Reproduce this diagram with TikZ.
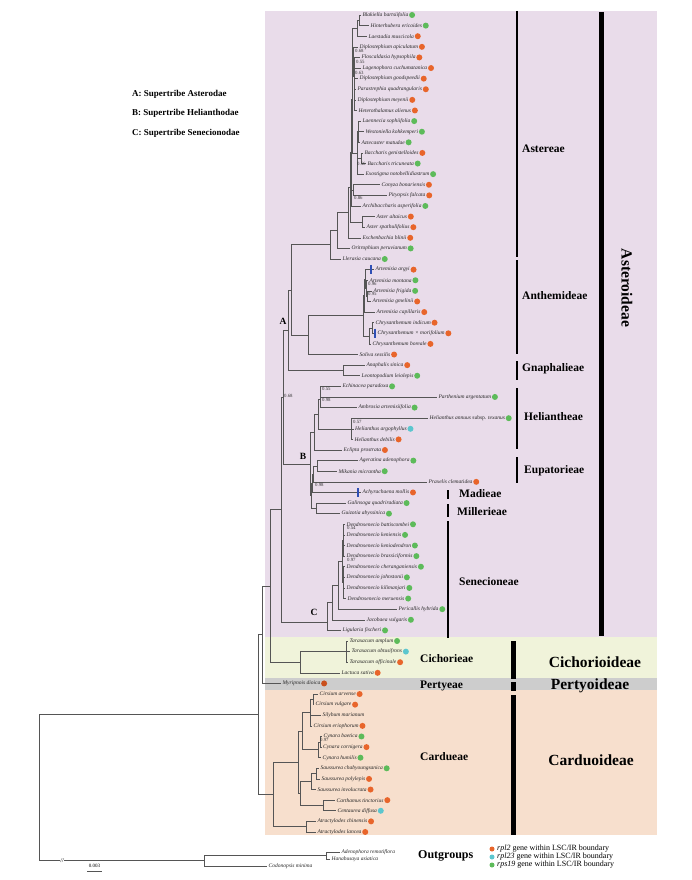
\documentclass[tikz,border=0pt]{standalone}
\usepackage{fontspec}
\setmainfont{Liberation Serif}
\definecolor{cOr}{HTML}{E8652B}
\definecolor{cGr}{HTML}{5DBB5A}
\definecolor{cCy}{HTML}{5CC6CE}
\definecolor{cDo}{HTML}{C9501E}
\definecolor{brc}{HTML}{555555}
\definecolor{cBl}{HTML}{2F4FB5}
\definecolor{bgA}{HTML}{E9DCEA}
\definecolor{bgC}{HTML}{F0F3DA}
\definecolor{bgP}{HTML}{CDCDCD}
\definecolor{bgD}{HTML}{F7DFCD}
\newcommand\tleaf[5]{%
  \coordinate (t#1) at (#2,#3);
  \node[lbl] (l#1) at ([xshift=1.4pt]t#1) {#4};
  \node[dot=#5] (d#1) at ([xshift=3.6pt]l#1.east) {};}
\newcommand\tleafn[4]{%
  \coordinate (t#1) at (#2,#3);
  \node[lbl] (l#1) at ([xshift=1.4pt]t#1) {#4};}
\newcommand\tnode[4]{%
  \coordinate (#1) at (#2,#3);
  \foreach \kid in {#4}{\draw[branch] (#1) |- (\kid);}}
\begin{document}
\begin{tikzpicture}[x=1pt,y=-1pt,
  branch/.style={draw=brc, line width=0.55pt},
  lbl/.style={anchor=west, inner sep=0pt, font=\fontsize{5.5}{6}\selectfont\itshape, text=black!85},
  dot/.style={circle, fill=#1, inner sep=0pt, minimum size=6pt},
  nlab/.style={anchor=west, inner sep=0pt, font=\fontsize{4.8}{5}\selectfont, text=black!80},
  tribe/.style={anchor=west, inner sep=0pt, font=\fontsize{11.5}{12}\selectfont\bfseries},
  subf/.style={inner sep=0pt, font=\fontsize{15.5}{16}\selectfont\bfseries},
  tbar/.style={line width=2.6pt, draw=black},
  sbar/.style={line width=5pt, draw=black},
  clade/.style={inner sep=0pt, font=\fontsize{9.5}{10}\selectfont\bfseries},
  leg/.style={anchor=west, inner sep=0pt, font=\fontsize{9}{10}\selectfont\bfseries},
  legs/.style={anchor=west, inner sep=0pt, font=\fontsize{8}{8}\selectfont}]
\useasboundingbox (0,0) rectangle (691,880);
% background bands
\fill[bgA] (265,11) rectangle (657,637);
\fill[bgC] (265,637) rectangle (657,678);
\fill[bgP] (265,678) rectangle (657,690);
\fill[bgD] (265,690) rectangle (657,835);
% supertribe legend
\node[leg] (sA) at (132,94) {A: Supertribe Asterodae};
\node[leg] (sB) at (132,113) {B: Supertribe Helianthodae};
\node[leg] (sC) at (132,133) {C: Supertribe Senecionodae};

\begin{scope}[y=-10.61pt, yshift=-15pt]
% ---------- leaves
\tleaf{0}{361}{0}{Blakiella bartsiifolia}{cGr}
\tleaf{1}{369}{1}{Hinterhubera ericoides}{cGr}
\tleaf{2}{367}{2}{Laestadia muscicola}{cOr}
\tleaf{3}{358}{3}{Diplostephium apiculatum}{cOr}
\tleaf{4}{360}{4}{Floscaldasia hypsophila}{cOr}
\tleaf{5}{361}{5}{Lagenophora cuchumatanica}{cOr}
\tleaf{6}{358}{6}{Diplostephium goodspeedii}{cOr}
\tleaf{7}{356}{7}{Parastrephia quadrangularis}{cOr}
\tleaf{8}{356}{8}{Diplostephium meyenii}{cOr}
\tleaf{9}{357}{9}{Heterothalamus alienus}{cOr}
\tleaf{10}{361}{10}{Laennecia sophiifolia}{cGr}
\tleaf{11}{364}{11}{Westoniella kohkemperi}{cGr}
\tleaf{12}{360}{12}{Aztecaster matudae}{cGr}
\tleaf{13}{363}{13}{Baccharis genistelloides}{cOr}
\tleaf{14}{366}{14}{Baccharis tricuneata}{cGr}
\tleaf{15}{364}{15}{Exostigma notobellidiastrum}{cGr}
\tleaf{16}{380}{16}{Conyza bonariensis}{cOr}
\tleaf{17}{387}{17}{Pityopsis falcata}{cOr}
\tleaf{18}{361}{18}{Archibaccharis asperifolia}{cGr}
\tleaf{19}{375}{19}{Aster altaicus}{cOr}
\tleaf{20}{365}{20}{Aster spathulifolius}{cOr}
\tleaf{21}{361}{21}{Eschenbachia blinii}{cOr}
\tleaf{22}{350}{22}{Oritrophium peruvianum}{cGr}
\tleaf{23}{341}{23}{Llerasia caucana}{cGr}
\tleaf{24}{374}{24}{Artemisia argyi}{cOr}
\tleaf{25}{368}{25}{Artemisia montana}{cGr}
\tleaf{26}{372}{26}{Artemisia frigida}{cGr}
\tleaf{27}{371}{27}{Artemisia gmelinii}{cOr}
\tleaf{28}{375}{28}{Artemisia capillaris}{cOr}
\tleaf{29}{374}{29}{Chrysanthemum indicum}{cOr}
\tleaf{30}{376}{30}{Chrysanthemum × morifolium}{cOr}
\tleaf{31}{371}{31}{Chrysanthemum boreale}{cOr}
\tleaf{32}{358}{32}{Soliva sessilis}{cOr}
\tleaf{33}{365}{33}{Anaphalis sinica}{cOr}
\tleaf{34}{360}{34}{Leontopodium leiolepis}{cGr}
\tleaf{35}{341}{35}{Echinacea paradoxa}{cGr}
\tleaf{36}{437}{36}{Parthenium argentatum}{cGr}
\tleaf{37}{357}{37}{Ambrosia artemisiifolia}{cGr}
\tleaf{38}{428}{38}{Helianthus annuus {\upshape subsp.} texanus}{cGr}
\tleaf{39}{353.5}{39}{Helianthus argophyllus}{cCy}
\tleaf{40}{353}{40}{Helianthus debilis}{cOr}
\tleaf{41}{342}{41}{Eclipta prostrata}{cOr}
\tleaf{42}{358}{42}{Ageratina adenophora}{cGr}
\tleaf{43}{337}{43}{Mikania micrantha}{cGr}
\tleaf{44}{427}{44}{Praxelis clematidea}{cOr}
\tleaf{45}{361}{45}{Achyrachaena mollis}{cOr}
\tleaf{46}{346}{46}{Galinsoga quadriradiata}{cGr}
\tleaf{47}{340}{47}{Guizotia abyssinica}{cGr}
\tleaf{48}{345}{48}{Dendrosenecio battiscombei}{cGr}
\tleaf{49}{345}{49}{Dendrosenecio keniensis}{cGr}
\tleaf{50}{345}{50}{Dendrosenecio keniodendron}{cGr}
\tleaf{51}{345}{51}{Dendrosenecio brassiciformis}{cGr}
\tleaf{52}{345}{52}{Dendrosenecio cheranganiensis}{cGr}
\tleaf{53}{345}{53}{Dendrosenecio johnstonii}{cGr}
\tleaf{54}{345}{54}{Dendrosenecio kilimanjari}{cGr}
\tleaf{55}{346}{55}{Dendrosenecio meruensis}{cGr}
\tleaf{56}{397}{56}{Pericallis hybrida}{cGr}
\tleaf{57}{365}{57}{Jacobaea vulgaris}{cGr}
\tleaf{58}{341}{58}{Ligularia fischeri}{cGr}
\tleaf{59}{348}{59}{Taraxacum amplum}{cGr}
\tleaf{60}{350}{60}{Taraxacum obtusifrons}{cCy}
\tleaf{61}{348}{61}{Taraxacum officinale}{cOr}
\tleaf{62}{340}{62}{Lactuca sativa}{cOr}
\tleaf{63}{281}{63}{Myripnois dioica}{cDo}
\tleaf{64}{318}{64}{Cirsium arvense}{cOr}
\tleaf{65}{314}{65}{Cirsium vulgare}{cOr}
\tleafn{66}{321}{66}{Silybum marianum}
\tleaf{67}{312}{67}{Cirsium eriophorum}{cOr}
\tleaf{68}{322}{68}{Cynara baetica}{cGr}
\tleaf{69}{321.5}{69}{Cynara cornigera}{cOr}
\tleaf{70}{321}{70}{Cynara humilis}{cGr}
\tleaf{71}{319}{71}{Saussurea chabyoungsanica}{cGr}
\tleaf{72}{320}{72}{Saussurea polylepis}{cOr}
\tleaf{73}{316}{73}{Saussurea involucrata}{cOr}
\tleaf{74}{335}{74}{Carthamus tinctorius}{cOr}
\tleaf{75}{336}{75}{Centaurea diffusa}{cCy}
\tleaf{76}{316}{76}{Atractylodes chinensis}{cOr}
\tleaf{77}{316}{77}{Atractylodes lancea}{cOr}
\tleafn{Ad}{340}{78.89}{Adenophora remotiflora}
\tleafn{Ha}{330}{79.55}{Hanabusaya asiatica}
\tleafn{Co}{267}{80.2}{Codonopsis minima}
% ---------- Astereae
\tnode{nBH}{359}{0.5}{t0,t1}
\tnode{nBHL}{357}{1.25}{nBH,t2}
\tnode{nT2}{354.5}{7.5}{t6,t7,t8,t9}
\tnode{nT3}{354}{5.75}{t4,t5,nT2}
\tnode{nT4}{353}{4.375}{t3,nT3}
\tnode{nT}{352}{2.8125}{nBHL,nT4}
\tnode{nLa}{358.5}{11}{t10,t11,t12}
\tnode{nBa}{361}{13.5}{t13,t14}
\tnode{nM}{357}{13}{nLa,nBa,t15}
\tnode{nU}{352}{7.9}{nT,nM}
\tnode{nCP}{353}{16.5}{t16,t17}
\tnode{nV}{351}{12.95}{nU,nCP,t18}
\tnode{nAs}{362}{19.5}{t19,t20}
\tnode{nW}{350}{16.225}{nV,nAs}
\tnode{nS2}{348.5}{18.61}{nW,t21}
\tnode{nS1}{337}{20.3}{nS2,t22}
\tnode{nS0}{330}{21.65}{nS1,t23}
% ---------- Anthemideae, Gnaphalieae
\tnode{nAfg}{367.5}{26.5}{t26,t27}
\tnode{nAm}{366.5}{25.75}{t25,nAfg}
\tnode{nAa}{365.5}{24.875}{t24,nAm}
\tnode{nArt}{364}{26.44}{nAa,t28}
\tnode{nChi}{372}{29.5}{t29,t30}
\tnode{nChr}{369}{30.25}{nChi,t31}
\tnode{nAC}{363}{28.34}{nArt,nChr}
\tnode{nAnth}{308}{30.17}{nAC,t32}
\tnode{nGn}{343}{33.5}{t33,t34}
\tnode{nAA}{291}{25.91}{nS0,nAnth}
\tnode{nA}{288}{29.71}{nAA,nGn}
% ---------- Helianthodae
\tnode{nEP}{320.5}{35.5}{t35,t36}
\tnode{nEPA}{320}{36.25}{nEP,t37}
\tnode{nHe}{351}{39}{t38,t39,t40}
\tnode{nHA}{318.5}{37.625}{nEPA,nHe}
\tnode{nHEc}{314}{39.31}{nHA,t41}
\tnode{nAM}{317}{42.5}{t42,t43}
\tnode{nEu}{313.5}{43.25}{nAM,t44}
\tnode{nEM}{312.5}{44.125}{nEu,t45}
\tnode{nMil}{316}{46.5}{t46,t47}
\tnode{nEMM}{311.5}{45.31}{nEM,nMil}
\tnode{nB}{310}{42.31}{nHEc,nEMM}
\tnode{nAB}{283}{36.01}{nA,nB}
% ---------- Senecionodae
\tnode{nDa}{343.5}{49.5}{t48,t49,t50,t51}
\tnode{nDb}{343.5}{53.5}{t52,t53,t54,t55}
\tnode{nD}{342}{51.5}{nDa,nDb}
\tnode{nDP}{338}{53.75}{nD,t56}
\tnode{nDPJ}{332}{55.375}{nDP,t57}
\tnode{nC}{327}{57.19}{nDPJ,t58}
\tnode{nAst}{281.5}{46.6}{nAB,nC}
% ---------- Cichorieae, Pertyeae
\tnode{nTar}{346}{60}{t59,t60,t61}
\tnode{nCic}{300}{61}{nTar,t62}
\tnode{nAC2}{270}{53.8}{nAst,nCic}
\tnode{nAMy}{262}{58.4}{nAC2,t63}
% ---------- Cardueae
\tnode{nCav}{313}{64.5}{t64,t65}
\tnode{nCirs}{310}{65.75}{nCav,t66,t67}
\tnode{nCyn1}{320.5}{68.5}{t68,t69}
\tnode{nCyn}{318.5}{69.25}{nCyn1,t70}
\tnode{nCC}{302}{67.5}{nCirs,nCyn}
\tnode{nSa1}{316}{71.5}{t71,t72}
\tnode{nSa}{311}{72.25}{nSa1,t73}
\tnode{nCt}{323}{74.5}{t74,t75}
\tnode{nSCt}{300}{73.375}{nSa,nCt}
\tnode{nCS}{298}{70.44}{nCC,nSCt}
\tnode{nAtr}{306}{76.5}{t76,t77}
\tnode{nCard}{273}{73.47}{nCS,nAtr}
\tnode{nIn}{258}{65.94}{nAMy,nCard}
% ---------- outgroups and root
\tnode{nAH}{326}{79.22}{tAd,tHa}
\tnode{nOut}{204}{79.7}{nAH,tCo}
\tnode{root}{39}{72.82}{nIn,nOut}
\node[inner sep=0.4pt, fill=white, font=\fontsize{6}{6}\selectfont\itshape] (brk) at (62,79.7) {//};
% blue bars
\draw[cBl, line width=2.4pt] (371,23.55) -- (371,24.45);
\draw[cBl, line width=2.4pt] (375,29.55) -- (375,30.45);
\draw[cBl, line width=2.4pt] (358,44.6) -- (358,45.45);
\end{scope}

% support values
\node[nlab] (p1) at (355,51) {0.68};
\node[nlab] (p2) at (356,62) {0.55};
\node[nlab] (p3) at (355,73.3) {0.63};
\node[nlab] (p4) at (357,164) {0.56};
\node[nlab] (p5) at (354,198) {0.86};
\node[nlab] (p6) at (368,284) {0.96};
\node[nlab] (p7) at (368,294) {0.95};
\node[nlab] (p8) at (284,396) {0.68};
\node[nlab] (p9) at (322,389) {0.55};
\node[nlab] (p10) at (322,400) {0.98};
\node[nlab] (p11) at (353,422) {0.57};
\node[nlab] (p12) at (315,485) {0.98};
\node[nlab] (p13) at (347,528) {0.54};
\node[nlab] (p14) at (347,560) {0.97};
\node[nlab] (p15) at (320,740) {0.97};
% clade letters
\node[clade] (cA) at (283,321) {A};
\node[clade] (cB) at (303,456) {B};
\node[clade] (cC) at (314,612) {C};
% scale bar
\coordinate (sb1) at (87,871);
\coordinate (sb2) at (102,871);
\draw[branch] (sb1) -- (sb2);
\node[inner sep=0pt, font=\fontsize{5}{5}\selectfont] (sbl) at (94.5,866) {0.003};
% tribe bars and labels
\draw[tbar] (517,11) -- (517,257);
\draw[tbar] (517,260) -- (517,354);
\draw[tbar] (517,361) -- (517,380);
\draw[tbar] (517,388) -- (517,449);
\draw[tbar] (517,457) -- (517,483);
\draw[tbar] (448,490) -- (448,499);
\draw[tbar] (448,504) -- (448,517);
\draw[tbar] (448,521) -- (448,638);
\draw[sbar] (601,12) -- (601,636);
\draw[sbar] (513,641) -- (513,679);
\draw[sbar] (513,682) -- (513,691);
\draw[sbar] (513,695) -- (513,835);
\node[tribe] (tr1) at (522,149) {Astereae};
\node[tribe] (tr2) at (522,296) {Anthemideae};
\node[tribe] (tr3) at (522,369) {Gnaphalieae};
\node[tribe] (tr4) at (524,417) {Heliantheae};
\node[tribe] (tr5) at (524,471) {Eupatorieae};
\node[tribe] (tr6) at (459,494) {Madieae};
\node[tribe] (tr7) at (457,512) {Millerieae};
\node[tribe] (tr8) at (459,582) {Senecioneae};
\node[tribe] (tr9) at (420,659) {Cichorieae};
\node[tribe] (tr10) at (420,686) {Pertyeae};
\node[tribe] (tr11) at (420,757) {Cardueae};
\node[tribe, font=\fontsize{12}{12}\selectfont\bfseries] (tr12) at (418,856) {Outgroups};
\node[subf, rotate=-90] (sf1) at (627,288) {Asteroideae};
\node[subf] (sf2) at (595,662) {Cichorioideae};
\node[subf] (sf3) at (590,686) {Pertyoideae};
\node[subf] (sf4) at (591,760) {Carduoideae};
% gene legend
\node[dot=cOr, minimum size=5pt] (g1) at (492,849) {};
\node[dot=cCy, minimum size=5pt] (g2) at (492,857) {};
\node[dot=cGr, minimum size=5pt] (g3) at (492,865) {};
\node[legs] (gt1) at (497,849) {\textit{rpl2} gene within LSC/IR boundary};
\node[legs] (gt2) at (497,857) {\textit{rpl23} gene within LSC/IR boundary};
\node[legs] (gt3) at (497,865) {\textit{rps19} gene within LSC/IR boundary};
\end{tikzpicture}
\end{document}
